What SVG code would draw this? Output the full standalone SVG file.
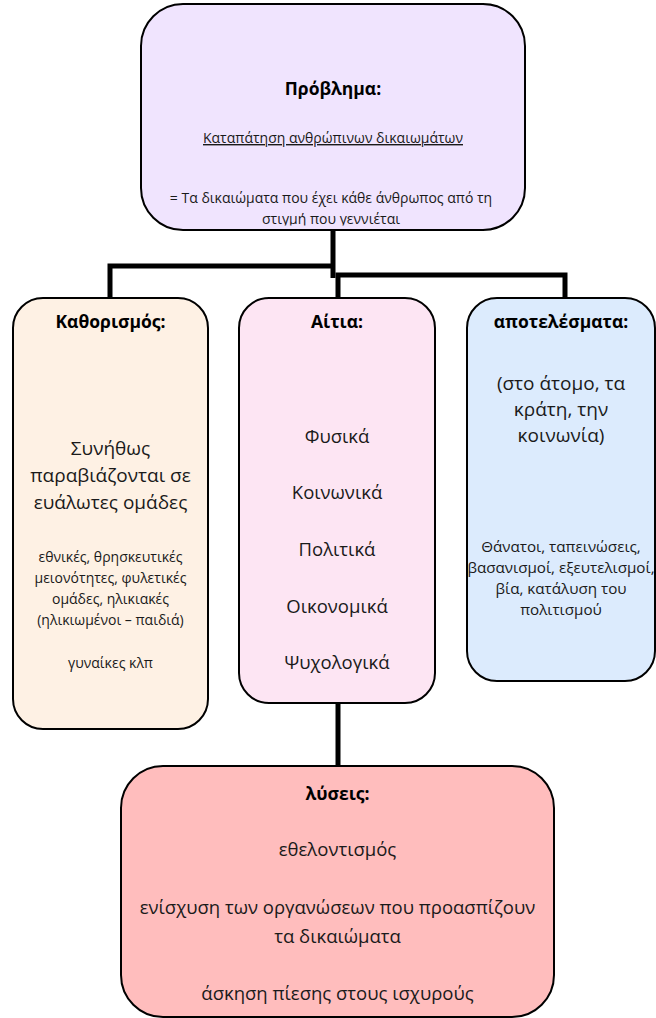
<svg xmlns="http://www.w3.org/2000/svg" width="656" height="1018" viewBox="0 0 656 1018">
<style>
.box{stroke:#000;stroke-width:2}
.t{font-family:"Open Sans","Noto Sans","DejaVu Sans",sans-serif;text-anchor:middle;fill:#1a1a1a}
.b{font-weight:bold;font-size:17.5px;fill:#000}
.s{font-size:14px}
.s2{font-size:15.2px}
.m{font-size:18.5px}
.l{font-size:19px}
.conn{fill:none;stroke:#000;stroke-width:5;stroke-linejoin:miter}
</style>
<defs>
<clipPath id="topclip"><rect x="141" y="4" width="384" height="221.5"/></clipPath>
</defs>
<rect width="656" height="1018" fill="#fff"/>
<g id="connectors">
<path class="conn" d="M333,230 V278"/>
<path class="conn" d="M110,298 V266 H335"/>
<path class="conn" d="M338,298 V275 H565 V298"/>
<path class="conn" d="M338,703 V766"/>
</g>
<g id="problem">
<rect class="box" x="141" y="4" width="384" height="226" rx="42" fill="#F0E4FE"/>
<text class="t b" x="333" y="95">Πρόβλημα:</text>
<text class="t s" x="333" y="143" text-decoration="underline">Καταπάτηση ανθρώπινων δικαιωμάτων</text>
<g clip-path="url(#topclip)">
<text class="t s" x="331" y="203">= Τα δικαιώματα που έχει κάθε άνθρωπος από τη</text>
<text class="t s" x="331" y="224">στιγμή που γεννιέται</text>
</g>
</g>
<g id="definition">
<rect class="box" x="13" y="298" width="195" height="431" rx="30" fill="#FEF1E4"/>
<text class="t b" x="110.5" y="328">Καθορισμός:</text>
<text class="t l" x="110.5" y="455">Συνήθως</text>
<text class="t l" x="110.5" y="482">παραβιάζονται σε</text>
<text class="t l" x="110.5" y="509">ευάλωτες ομάδες</text>
<text class="t s" x="110.5" y="562">εθνικές, θρησκευτικές</text>
<text class="t s" x="110.5" y="583">μειονότητες, φυλετικές</text>
<text class="t s" x="110.5" y="604">ομάδες, ηλικιακές</text>
<text class="t s" x="110.5" y="625">(ηλικιωμένοι – παιδιά)</text>
<text class="t s" x="110.5" y="668">γυναίκες κλπ</text>
</g>
<g id="causes">
<rect class="box" x="239" y="298" width="196" height="405" rx="30" fill="#FDE5F3"/>
<text class="t b" x="337" y="328">Αίτια:</text>
<text class="t m" x="337" y="443">Φυσικά</text>
<text class="t m" x="337" y="499">Κοινωνικά</text>
<text class="t m" x="337" y="556">Πολιτικά</text>
<text class="t m" x="337" y="613">Οικονομικά</text>
<text class="t m" x="337" y="669">Ψυχολογικά</text>
</g>
<g id="effects">
<rect class="box" x="467" y="298" width="188" height="383" rx="30" fill="#DCEBFD"/>
<text class="t b" x="561" y="328">αποτελέσματα:</text>
<text class="t l" x="561" y="390">(στο άτομο, τα</text>
<text class="t l" x="561" y="416">κράτη, την</text>
<text class="t l" x="561" y="442">κοινωνία)</text>
<text class="t s2" x="561" y="552">Θάνατοι, ταπεινώσεις,</text>
<text class="t s2" x="561" y="573">βασανισμοί, εξευτελισμοί,</text>
<text class="t s2" x="561" y="594">βία, κατάλυση του</text>
<text class="t s2" x="561" y="615">πολιτισμού</text>
</g>
<g id="solutions">
<rect class="box" x="121" y="766" width="433" height="251" rx="42" fill="#FFBDBD"/>
<text class="t b" x="337.5" y="800">λύσεις:</text>
<text class="t m" x="337.5" y="856">εθελοντισμός</text>
<text class="t m" x="337.5" y="914">ενίσχυση των οργανώσεων που προασπίζουν</text>
<text class="t m" x="337.5" y="943">τα δικαιώματα</text>
<text class="t m" x="337.5" y="1000">άσκηση πίεσης στους ισχυρούς</text>
</g>
</svg>
